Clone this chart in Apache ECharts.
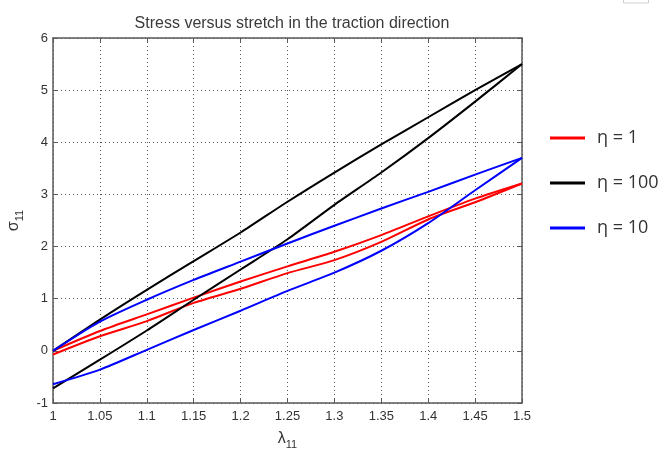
<!DOCTYPE html>
<html>
<head>
<meta charset="utf-8">
<title>Stress versus stretch</title>
<script src="https://cdn.jsdelivr.net/npm/echarts@6/dist/echarts.min.js"></script>
<style>
  html, body { margin: 0; padding: 0; background: #ffffff; }
  #chart { width: 668px; height: 453px; }
</style>
</head>
<body>
<div id="chart"></div>
<script>
// Stretch values sampled along the loading path (1 -> 1.5); unloading runs back the other way.
const stretchLoading = [1.00, 1.05, 1.10, 1.15, 1.20, 1.25, 1.30, 1.35, 1.40, 1.45, 1.50];
const stretchUnloading = [1.50, 1.45, 1.40, 1.35, 1.30, 1.25, 1.20, 1.15, 1.10, 1.05, 1.00];

// sigma_11 for eta = 1
const eta1Loading   = [0.00, 0.38, 0.70, 1.02, 1.33, 1.62, 1.90, 2.22, 2.58, 2.92, 3.21];
const eta1Unloading = [3.21, 2.85, 2.52, 2.09, 1.74, 1.49, 1.19, 0.92, 0.57, 0.28, -0.07];

// sigma_11 for eta = 100
const eta100Loading   = [0.00, 0.60, 1.17, 1.72, 2.27, 2.86, 3.42, 3.96, 4.48, 5.00, 5.50];
const eta100Unloading = [5.50, 4.78, 4.08, 3.42, 2.80, 2.14, 1.56, 0.98, 0.39, -0.17, -0.72];

// sigma_11 for eta = 10
const eta10Loading   = [0.00, 0.56, 0.98, 1.36, 1.71, 2.06, 2.40, 2.73, 3.05, 3.38, 3.70];
const eta10Unloading = [3.70, 3.08, 2.45, 1.92, 1.50, 1.15, 0.77, 0.40, 0.02, -0.36, -0.64];

const seriesNames = ['η = 1', 'η = 100', 'η = 10'];
const seriesColors = ['#ff0000', '#000000', '#0000ff'];

const xTickLabels = ['1', '1.05', '1.1', '1.15', '1.2', '1.25', '1.3', '1.35', '1.4', '1.45', '1.5'];
const yTickLabels = ['-1', '0', '1', '2', '3', '4', '5', '6'];

function branch(xs, ys) {
  return xs.map((x, i) => [x, ys[i]]);
}

// Each hysteresis loop = a loading branch plus an unloading branch under the same name.
const branches = [
  { idx: 0, data: branch(stretchLoading, eta1Loading) },
  { idx: 0, data: branch(stretchUnloading, eta1Unloading) },
  { idx: 1, data: branch(stretchLoading, eta100Loading) },
  { idx: 1, data: branch(stretchUnloading, eta100Unloading) },
  { idx: 2, data: branch(stretchLoading, eta10Loading) },
  { idx: 2, data: branch(stretchUnloading, eta10Unloading) }
];

const axisFont = 'Liberation Sans, Arial, Helvetica, sans-serif';
const frameColor = '#5a5a5a';

function xLabel(v) {
  const i = Math.round((v - 1) / 0.05);
  return xTickLabels[i] !== undefined ? xTickLabels[i] : '';
}
function yLabel(v) {
  const i = Math.round(v + 1);
  return yTickLabels[i] !== undefined ? yTickLabels[i] : '';
}

const chart = echarts.init(document.getElementById('chart'), null, { renderer: 'canvas' });

const frameAxis = {
  axisLine: { show: true, onZero: false, lineStyle: { color: frameColor, width: 1.5 } },
  axisTick: { show: true, inside: true, length: 5, lineStyle: { color: frameColor, width: 1 } },
};

const subscriptRich = {
  main: { fontFamily: axisFont, fontSize: 16, color: '#333', lineHeight: 16, verticalAlign: 'top' },
  sub: { fontFamily: axisFont, fontSize: 11, color: '#333', lineHeight: 28 }
};

chart.setOption({
  animation: false,
  backgroundColor: '#ffffff',
  title: {
    text: 'Stress versus stretch in the traction direction',
    left: 287,
    top: 11,
    textAlign: 'center',
    textStyle: { fontFamily: axisFont, fontSize: 16, fontWeight: 'normal', color: '#3a3a3a' }
  },
  grid: { left: 53, right: 146, top: 38, bottom: 50, containLabel: false, outerBoundsMode: 'none' },
  legend: seriesNames.map((name, i) => ({
    data: [name],
    orient: 'vertical',
    left: 550,
    top: [129, 174, 219][i],
    padding: 0,
    icon: 'rect',
    itemWidth: 35,
    itemHeight: 3,
    textStyle: { fontFamily: 'Open Sans, Noto Sans, sans-serif', fontSize: 18, color: '#333', padding: [0, 0, 0, 7] }
  })),
  xAxis: [
    Object.assign({
      type: 'value', position: 'bottom', min: 1, max: 1.5, interval: 0.05,
      name: '{main|λ}{sub|11}',
      nameLocation: 'middle', nameGap: 28,
      nameTextStyle: { rich: subscriptRich },
      axisLabel: { formatter: xLabel, fontFamily: axisFont, fontSize: 13, color: '#333', margin: 7 },
      splitLine: { show: true, lineStyle: { type: [1, 3], color: '#555', width: 1 } }
    }, frameAxis),
    Object.assign({
      type: 'value', position: 'top', min: 1, max: 1.5, interval: 0.05,
      axisLabel: { show: false }, splitLine: { show: false }
    }, frameAxis)
  ],
  yAxis: [
    Object.assign({
      type: 'value', position: 'left', min: -1, max: 6, interval: 1,
      name: '{main|σ}{sub|11}',
      nameLocation: 'middle', nameGap: 13, nameRotate: 90,
      nameTextStyle: { rich: subscriptRich },
      axisLabel: { formatter: yLabel, fontFamily: axisFont, fontSize: 13, color: '#333', margin: 5 },
      splitLine: { show: true, lineStyle: { type: [1, 3], color: '#555', width: 1 } }
    }, frameAxis),
    Object.assign({
      type: 'value', position: 'right', min: -1, max: 6, interval: 1,
      axisLabel: { show: false }, splitLine: { show: false }
    }, frameAxis)
  ],
  series: branches.map((b) => ({
    name: seriesNames[b.idx],
    type: 'line',
    data: b.data,
    smooth: 0.25,
    showSymbol: false,
    symbol: 'none',
    lineStyle: { color: seriesColors[b.idx], width: 2 },
    itemStyle: { color: seriesColors[b.idx] },
    z: 3 + b.idx
  })),
  graphic: [{
    type: 'rect',
    shape: { x: 623.5, y: -2, width: 25, height: 5 },
    style: { fill: 'none', stroke: '#cfcfcf', lineWidth: 1 },
    silent: true
  }]
});
</script>
</body>
</html>
